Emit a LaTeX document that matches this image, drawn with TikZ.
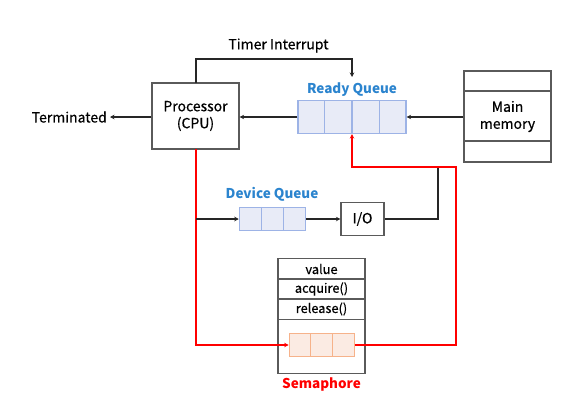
\documentclass[tikz,border=0pt]{standalone}
\usepackage{fontspec}
\setmainfont{Noto Sans CJK KR}[FakeBold=0.5]
\newfontfamily\lblfont{Noto Sans CJK KR}
\usetikzlibrary{arrows.meta,calc}
\definecolor{boxgray}{HTML}{5A5A5A}
\definecolor{qblue}{HTML}{9DB3E6}
\definecolor{qbluefill}{HTML}{E8EBF7}
\definecolor{qorange}{HTML}{F6B28A}
\definecolor{qorangefill}{HTML}{FBEBE3}
\definecolor{lblblue}{HTML}{2B84CE}
\definecolor{semred}{HTML}{FF0000}
\tikzset{
  box/.style={draw=boxgray, line width=1.1pt, fill=white, inner sep=0pt, align=center, font=\fontsize{14}{17}\selectfont},
  bq/.style={draw=qblue, fill=qbluefill, line width=1.1pt, inner sep=0pt},
  oq/.style={draw=qorange, fill=qorangefill, line width=1.1pt, inner sep=0pt},
  conn/.style={line width=1.6pt, black!85, -{Stealth[length=4.5pt,width=4.5pt]}},
  rconn/.style={line width=1.6pt, semred, -{Stealth[length=4.5pt,width=4.5pt]}},
  qlabel/.style={font=\lblfont\fontsize{13.5}{16}\selectfont\bfseries, text=lblblue, inner sep=0pt},
  txt/.style={font=\fontsize{14}{17}\selectfont, inner sep=0pt},
  small/.style={font=\fontsize{12.8}{15}\selectfont, inner sep=0pt}
}
\begin{document}
\begin{tikzpicture}[x=1pt,y=-1pt]
\useasboundingbox (0,0) rectangle (569,407);
% Processor
\node[box, minimum width=87pt, minimum height=66pt] (proc) at (195.5,116) {Processor\\(CPU)};
% Terminated
\node[txt, anchor=east] (term) at (107,117) {Terminated};
% Ready queue
\node[bq, minimum width=108pt, minimum height=33pt] (rq) at (352,117) {};
\foreach \f in {0.25,0.5,0.75}
  \draw[qblue, line width=1.1pt] ($(rq.north west)!\f!(rq.north east)$) -- ($(rq.south west)!\f!(rq.south east)$);
\node[qlabel] (rql) at (352,90) {Ready Queue};
% Main memory
\node[box, minimum width=87pt, minimum height=91pt] (mm) at (507.5,116.5) {Main\\memory};
\draw[boxgray, line width=1.1pt] (mm.west |- 0,91) -- (mm.east |- 0,91);
\draw[boxgray, line width=1.1pt] (mm.west |- 0,141) -- (mm.east |- 0,141);
% Device queue
\node[bq, minimum width=66pt, minimum height=23pt] (dq) at (272.3,219) {};
\foreach \f in {0.3333,0.6667}
  \draw[qblue, line width=1.1pt] ($(dq.north west)!\f!(dq.north east)$) -- ($(dq.south west)!\f!(dq.south east)$);
\node[qlabel] (dql) at (272,194.5) {Device Queue};
% I/O
\node[box, minimum width=43pt, minimum height=33pt] (io) at (362.5,219) {I/O};
% Semaphore
\node[box, minimum width=87pt, minimum height=115pt] (sem) at (321.5,315.7) {};
\draw[boxgray, line width=1.1pt] (sem.west |- 0,279) -- (sem.east |- 0,279);
\draw[boxgray, line width=1.1pt] (sem.west |- 0,299) -- (sem.east |- 0,299);
\draw[boxgray, line width=1.1pt] (sem.west |- 0,319.3) -- (sem.east |- 0,319.3);
\node[small] (val) at (321.5,269) {value};
\node[small] (acq) at (321.5,289) {acquire()};
\node[small] (rel) at (321.5,309) {release()};
\node[oq, minimum width=65pt, minimum height=22.7pt] (sq) at (321.7,345) {};
\foreach \f in {0.3333,0.6667}
  \draw[qorange, line width=1.1pt] ($(sq.north west)!\f!(sq.north east)$) -- ($(sq.south west)!\f!(sq.south east)$);
\node[qlabel, text=semred] (seml) at (321.5,384.5) {Semaphore};
% coordinates
\coordinate (ptop) at (196,83);
\coordinate (pbot) at (196,149);
\coordinate (tmr) at (352,77);
\coordinate (br) at (196,219);
\coordinate (join) at (438,167);
\coordinate (rjoin) at (352,167);
\coordinate (tend) at (110,117);
% Timer interrupt
\draw[conn] (ptop) |- (196,59) -| (tmr);
\node[txt] (tlabel) at (278.5,45.5) {Timer Interrupt};
% Ready -> Processor, Main -> Ready, Processor -> Terminated
\draw[conn] (rq.west) -- (proc.east |- rq.west);
\draw[conn] (mm.west |- 0,117) -- (rq.east |- 0,117);
\draw[conn] (proc.west |- tend) -- (tend);
% Red from processor to semaphore queue
\draw[rconn] (pbot) |- (sq.west);
% Black branch to device queue
\draw[conn] (br) -- (dq.west);
\draw[conn] (dq.east) -- (io.west);
\draw[line width=1.6pt, black!85] (io.east) -| (join);
% Red from semaphore queue back to ready queue
\draw[rconn] (sq.east) -| (456,167) -- (rjoin) -- (rq.south);
\end{tikzpicture}
\end{document}
